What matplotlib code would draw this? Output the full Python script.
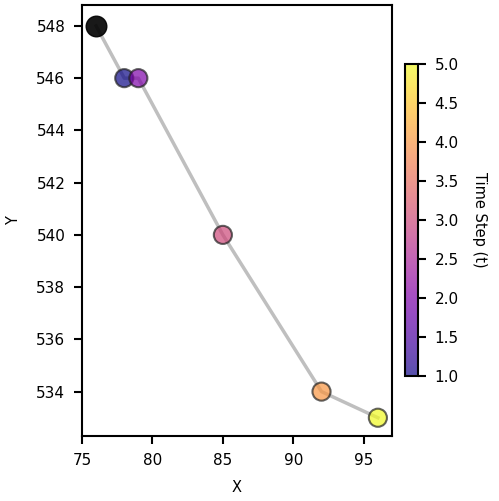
import matplotlib
matplotlib.use("Agg")
import matplotlib.pyplot as plt
import numpy as np

x = [76, 78, 79, 85, 92, 96]
y = [548, 546, 546, 540, 534, 533]
t = [0, 1, 2, 3, 4, 5]

fig = plt.figure(figsize=(4.99, 5.01), dpi=100)
ax = fig.add_axes([0.1643, 0.1297, 0.6212, 0.8603])
cax = fig.add_axes([0.8116, 0.2495, 0.026, 0.6228])

ax.plot(x, y, color="gray", alpha=0.5, linewidth=2.5, zorder=1)
sc = ax.scatter(x[1:], y[1:], c=t[1:], cmap="plasma", s=170, alpha=0.7,
                edgecolors="#222222", linewidths=1.5, zorder=2)
ax.scatter(x[0], y[0], color="black", s=220, alpha=0.9, zorder=3)

ax.set_xlim(75, 97)
ax.set_ylim(532.3, 548.8)
ax.set_xticks([75, 80, 85, 90, 95])
ax.set_yticks(np.arange(534, 549, 2))
ax.set_xlabel("X", fontsize=10.5, labelpad=9)
ax.set_ylabel("Y", fontsize=10.5, labelpad=11)
for s in ax.spines.values():
    s.set_linewidth(1.5)
ax.tick_params(width=1.5, length=6, labelsize=11, pad=6)

cb = fig.colorbar(sc, cax=cax)
cb.set_label("Time Step (t)", rotation=270, labelpad=20, fontsize=10.5)
cb.outline.set_linewidth(1.5)
cb.ax.tick_params(width=1.5, length=6, labelsize=11, pad=6)

fig.savefig("out.png", dpi=100)
